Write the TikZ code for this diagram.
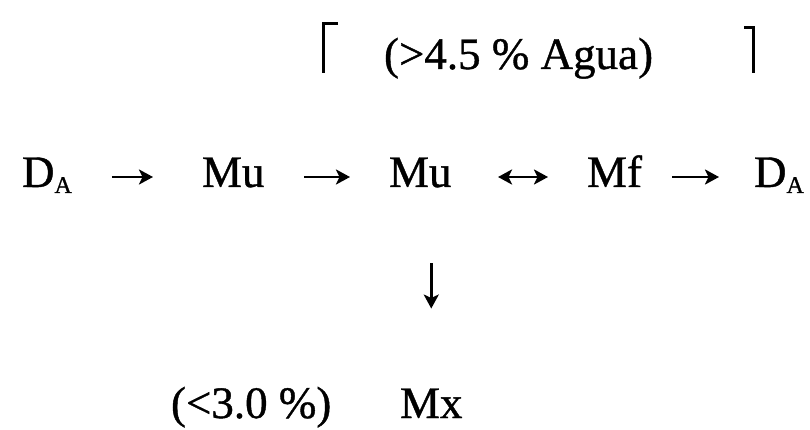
\documentclass[tikz,border=0pt]{standalone}
\usepackage{fontspec}
\setmainfont{Liberation Serif}[FakeBold=0.9]
\usetikzlibrary{arrows.meta}
\begin{document}
\begin{tikzpicture}[x=1pt,y=-1pt,
  txt/.style={inner sep=0pt,outer sep=0pt,anchor=base west,font=\fontsize{45}{50}\selectfont},
  tip/.style={Stealth[length=14pt,width=15pt,inset=3.5pt]},
  arr/.style={line width=2.8pt,-{Stealth[length=14pt,width=15pt,inset=3.5pt]}},
  darr/.style={line width=2.8pt,{Stealth[length=14pt,width=15pt,inset=3.5pt]}-{Stealth[length=14pt,width=15pt,inset=3.5pt]}},
  brk/.style={line width=3pt}]
\useasboundingbox (0,0) rectangle (810,430);
% row 1
\node[txt] (top) at (384,69) {(>4.5 \% Agua)};
\draw[brk] (338,24) -- (323,24) -- (323,73);
\draw[brk] (744,28) -- (753,28) -- (753,73);
% row 2
\node[txt] (da1) at (22,187) {D\raisebox{-6pt}{\fontsize{24}{24}\selectfont A}};
\node[txt] (mu1) at (202,187) {Mu};
\node[txt] (mu2) at (389,187) {Mu};
\node[txt] (mf)  at (587,187) {Mf};
\node[txt] (da2) at (754,187) {D\raisebox{-6pt}{\fontsize{24}{24}\selectfont A}};
% row 3
\node[txt] (bl) at (171,418) {(<3.0 \%)};
\node[txt] (mx) at (400,418) {Mx};
% connectors
\draw[arr,shorten <=40pt,shorten >=49pt] ([yshift=10pt]da1.base east) -- ([yshift=10pt]mu1.base west);
\draw[arr,shorten <=39.5pt,shorten >=39pt] ([yshift=10pt]mu1.base east) -- ([yshift=10pt]mu2.base west);
\draw[darr,shorten <=46.5pt,shorten >=39pt] ([yshift=10pt]mu2.base east) -- ([yshift=10pt]mf.base west);
\draw[arr,shorten <=30pt,shorten >=35pt] ([yshift=10pt]mf.base east) -- ([yshift=10pt]da2.base west);
\draw[arr,shorten <=76pt,shorten >=80pt] (mx.north |- mu2.base) -- (mx.north);
\end{tikzpicture}
\end{document}
